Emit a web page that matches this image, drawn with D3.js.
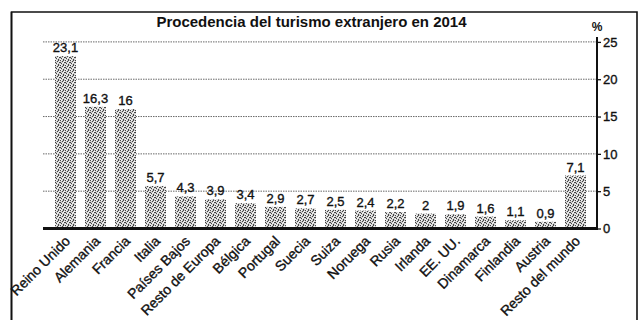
<!DOCTYPE html>
<html>
<head>
<meta charset="utf-8">
<script src="https://cdn.jsdelivr.net/npm/d3@7"></script>
<style>
  html, body { margin: 0; padding: 0; background: #fff; }
  svg { display: block; }
  text { font-family: "Liberation Sans", Arial, Helvetica, sans-serif; fill: #111; }
  .heavy { stroke: #111; stroke-width: 0.35px; }
</style>
</head>
<body>
<svg id="chart" width="642" height="320"></svg>
<script>
// Procedencia del turismo extranjero en 2014 (% del total)
const title = "Procedencia del turismo extranjero en 2014";
const countries = [
  "Reino Unido", "Alemania", "Francia", "Italia", "Países Bajos",
  "Resto de Europa", "Bélgica", "Portugal", "Suecia", "Suiza",
  "Noruega", "Rusia", "Irlanda", "EE. UU.", "Dinamarca",
  "Finlandia", "Austria", "Resto del mundo"
];
const shares = [23.1, 16.3, 16, 5.7, 4.3, 3.9, 3.4, 2.9, 2.7, 2.5, 2.4, 2.2, 2, 1.9, 1.6, 1.1, 0.9, 7.1];
const yTicks = [0, 5, 10, 15, 20, 25];
const unitLabel = "%";

const fmt = v => String(v).replace(".", ",");

const svg = d3.select("#chart");

// stippled grey fill for the bars
const defs = svg.append("defs");
const pat = defs.append("pattern")
  .attr("id", "stipple")
  .attr("patternUnits", "userSpaceOnUse")
  .attr("width", 5).attr("height", 5);
pat.append("rect").attr("width", 5).attr("height", 5).attr("fill", "#cfcfcf");
[[0,0],[2,1],[4,2],[1,3],[3,4],[3,0],[0,2]].forEach(([px, py]) =>
  pat.append("rect").attr("x", px).attr("y", py).attr("width", 1).attr("height", 1).attr("fill", "#444"));
[[1,0],[4,1],[2,3],[0,4],[3,2]].forEach(([px, py]) =>
  pat.append("rect").attr("x", px).attr("y", py).attr("width", 1).attr("height", 1).attr("fill", "#f6f6f6"));

const plotLeft = 43, plotRight = 597;

const x = d3.scaleBand()
  .domain(countries)
  .range([50.5, 590.5])
  .paddingInner(0.3)
  .paddingOuter(0.15);

const y = d3.scaleLinear()
  .domain([0, 25])
  .range([228.5, 41.9]);

// outer frame
svg.append("path")
  .attr("d", "M11.5,330 V12 H637 V330")
  .attr("fill", "none")
  .attr("stroke", "#111")
  .attr("stroke-width", 1.6);

// title
svg.append("text")
  .attr("x", 311.5).attr("y", 27)
  .attr("text-anchor", "middle")
  .attr("font-size", 15)
  .attr("font-weight", "bold")
  .text(title);

// dotted gridlines
svg.append("g")
  .selectAll("line")
  .data(yTicks.filter(t => t > 0))
  .join("line")
  .attr("x1", plotLeft).attr("x2", plotRight)
  .attr("y1", d => y(d)).attr("y2", d => y(d))
  .attr("stroke", "#444")
  .attr("stroke-width", 0.8)
  .attr("stroke-dasharray", "1.5,1");

// bars
svg.append("g")
  .selectAll("rect")
  .data(countries)
  .join("rect")
  .attr("x", d => x(d))
  .attr("width", x.bandwidth())
  .attr("y", (d, i) => y(shares[i]))
  .attr("height", (d, i) => y(0) - y(shares[i]))
  .attr("fill", "url(#stipple)");

// value labels
svg.append("g")
  .selectAll("text")
  .data(countries)
  .join("text")
  .attr("class", "heavy")
  .attr("x", d => x(d) + x.bandwidth() / 2)
  .attr("y", (d, i) => y(shares[i]) - 4)
  .attr("text-anchor", "middle")
  .attr("font-size", 13)
  .text((d, i) => fmt(shares[i]));

// right-hand value axis
const yAxis = d3.axisRight(y)
  .tickValues(yTicks)
  .tickSize(4)
  .tickSizeOuter(0)
  .tickPadding(2)
  .tickFormat(d => d);
const gy = svg.append("g")
  .attr("transform", `translate(${plotRight},0)`)
  .call(yAxis);
gy.select(".domain").remove();
gy.selectAll(".tick line").attr("stroke", "#111").attr("stroke-width", 1.3);
gy.selectAll(".tick text")
  .attr("class", "heavy")
  .attr("font-size", 13)
  .attr("font-family", "'Liberation Sans', Arial, sans-serif")
  .attr("fill", "#111");
svg.append("line")
  .attr("x1", plotRight).attr("x2", plotRight)
  .attr("y1", y(25) - 5).attr("y2", y(0) + 1.5)
  .attr("stroke", "#111")
  .attr("stroke-width", 2);

svg.append("text")
  .attr("x", plotRight).attr("y", 31)
  .attr("text-anchor", "middle")
  .attr("font-size", 12)
  .attr("font-weight", "bold")
  .text(unitLabel);

// baseline
svg.append("line")
  .attr("x1", plotLeft).attr("x2", plotRight + 1)
  .attr("y1", y(0)).attr("y2", y(0))
  .attr("stroke", "#111")
  .attr("stroke-width", 3);

// category labels, rotated
svg.append("g")
  .selectAll("text")
  .data(countries)
  .join("text")
  .attr("class", "heavy")
  .attr("transform", d => `translate(${x(d) + x.bandwidth() / 2 + 5.5},242) rotate(-45)`)
  .attr("text-anchor", "end")
  .attr("font-size", 14)
  .text(d => d);

// frame drawn over the clipped first label
svg.append("line")
  .attr("x1", 11.5).attr("x2", 11.5).attr("y1", 12).attr("y2", 330)
  .attr("stroke", "#111").attr("stroke-width", 1.6);
</script>
</body>
</html>
